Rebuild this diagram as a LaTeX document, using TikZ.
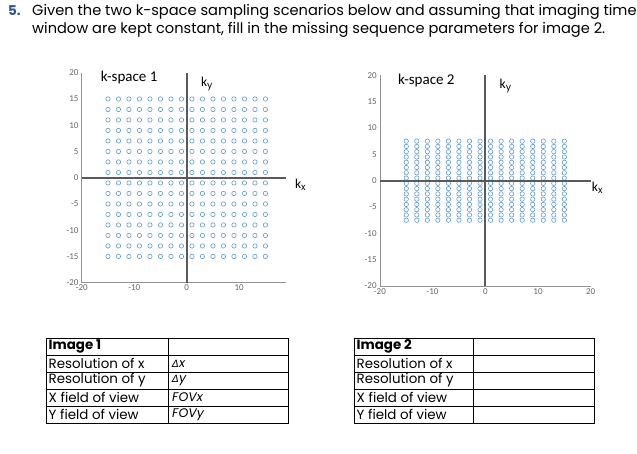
\documentclass[tikz,border=0pt]{standalone}
\usepackage{fontspec}
\setmainfont{Poppins}
\newfontfamily\carlf{Carlito}
\newfontfamily\grkf{DejaVu Sans}
\definecolor{qblue}{RGB}{46,84,150}
\definecolor{dotblue}{RGB}{91,155,213}
\definecolor{axgray}{RGB}{90,90,90}
\definecolor{tickgray}{RGB}{100,100,100}
\begin{document}
\begin{tikzpicture}[x=1pt,y=-1pt,
  tick/.style={font=\carlf\fontsize{9}{10}\selectfont,text=tickgray,inner sep=1.5pt},
  ttl/.style={font=\carlf\fontsize{15}{16}\selectfont,inner sep=0pt},
  klab/.style={font=\carlf\fontsize{13.5}{14}\selectfont,inner sep=0pt},
  cell/.style={font=\fontsize{13.4}{14}\selectfont,anchor=west,inner sep=0pt},
  frame/.style={draw=tickgray!70,line width=0.6pt},
  kaxis/.style={draw=axgray,line width=2.2pt},
  dot/.style={draw=dotblue,line width=0.6pt}]
\useasboundingbox (0,0) rectangle (637,453);
% question
\node[anchor=base west,inner sep=0pt,text=qblue,font=\bfseries\fontsize{13.5}{15}\selectfont] (num) at (8,15.5) {5.};
\node[anchor=base west,inner sep=0pt,font=\fontsize{14.6}{16}\selectfont] (q1) at (32,15.5) {Given the two k-space sampling scenarios below and assuming that imaging time and ADC};
\node[anchor=base west,inner sep=0pt,font=\fontsize{14.6}{16}\selectfont] (q2) at (32,33.5) {window are kept constant, fill in the missing sequence parameters for image 2.};
% plot 1
\begin{scope}[shift={(186.7,177.7)},x=5.25pt,y=5.25pt]
  \draw[frame] (-20,20) -- (-20,-20) -- (18.9,-20);
  \foreach \v in {-20,-15,...,20} \node[tick,anchor=east] (a\v) at (-20.3,\v) {\v};
  \foreach \v in {-20,-10,0,10} \node[tick,anchor=north] (b\v) at (\v,-20.1) {\v};
  \foreach \i in {-15,-13,...,15} \foreach \j in {-15,-13,...,15} \draw[dot] (\i,\j) circle (2.2pt);
  \draw[kaxis] (-20,0) -- (18.9,0);
  \draw[kaxis] (0,-20) -- (0,20);
  \node[ttl,anchor=west] (t1) at (-16.4,19) {k-space 1};
  \node[klab,anchor=west] (ky1) at (2.7,17.9) {k$_{\mathrm y}$};
  \node[klab,anchor=west] (kx1) at (20.6,-1.4) {k$_{\mathrm x}$};
\end{scope}
% plot 2
\begin{scope}[shift={(485.3,180.7)},x=5.27pt,y=5.27pt]
  \draw[frame] (-20,20) -- (-20,-20) -- (20,-20);
  \foreach \v in {-20,-15,...,20} \node[tick,anchor=east] (c\v) at (-20.3,\v) {\v};
  \foreach \v in {-20,-10,0,10,20} \node[tick,anchor=north] (d\v) at (\v,-20.1) {\v};
  \foreach \i in {-15,-13,...,15} \foreach \j in {-7.5,-6.5,...,7.6} \draw[dot] (\i,\j) circle (2.2pt);
  \draw[kaxis] (-20,0) -- (20,0);
  \draw[kaxis] (0,-20) -- (0,20);
  \node[ttl,anchor=west] (t2) at (-16.6,19) {k-space 2};
  \node[klab,anchor=west] (ky2) at (2.7,17.9) {k$_{\mathrm y}$};
  \node[klab,anchor=west] (kx2) at (20.2,-1.4) {k$_{\mathrm x}$};
\end{scope}
% tables
\foreach \L/\M/\R in {46/168/288, 354/473/594} {
  \draw[line width=0.9pt] (\L,338) rectangle (\R,423);
  \foreach \yy in {355,372,389,406} \draw[line width=0.7pt] (\L,\yy) -- (\R,\yy);
  \draw[line width=0.7pt] (\M,338) -- (\M,423);
}
\foreach \L/\n/\lab in {48.5/1/Image 1, 356.5/2/Image 2} {
  \node[cell,font=\bfseries\fontsize{13.4}{14}\selectfont] (h\n) at (\L,346.5) {\lab};
  \node[cell] (rx\n) at (\L,363.5) {Resolution of x};
  \node[cell] (ry\n) at (\L,380.5) {Resolution of y};
  \node[cell] (fx\n) at (\L,397.5) {X field of view};
  \node[cell] (fy\n) at (\L,414.5) {Y field of view};
}
\node[cell,font=\itshape\fontsize{12.5}{14}\selectfont] (dx) at (172,363.5) {{\grkf\fontsize{10}{12}\selectfont\itshape Δ}x};
\node[cell,font=\itshape\fontsize{12.5}{14}\selectfont] (dy) at (172,380.5) {{\grkf\fontsize{10}{12}\selectfont\itshape Δ}y};
\node[cell,font=\itshape\fontsize{12.5}{14}\selectfont] (fovx) at (172,397.5) {FOVx};
\node[cell,font=\itshape\fontsize{12.5}{14}\selectfont] (fovy) at (172,414.5) {FOVy};
\end{tikzpicture}
\end{document}
